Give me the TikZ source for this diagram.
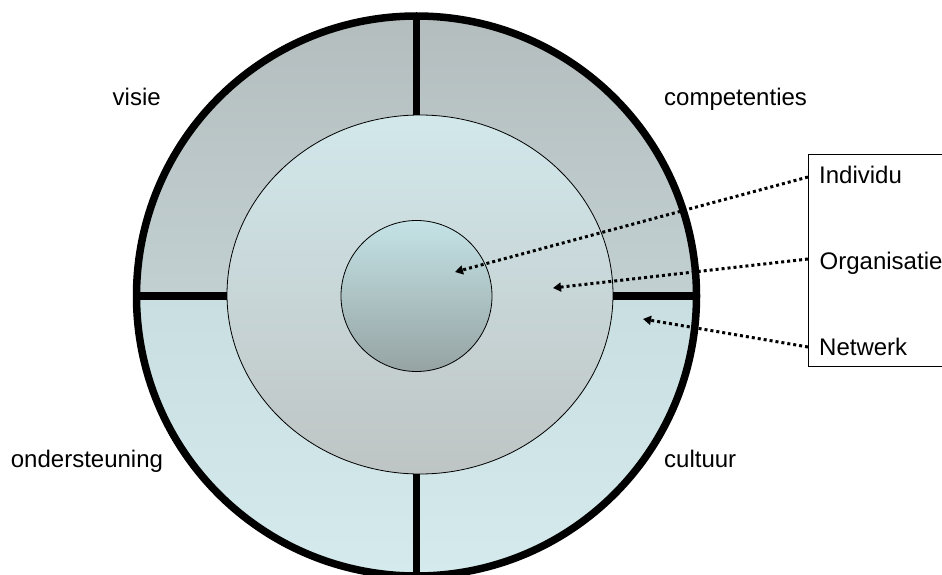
\documentclass[tikz,border=0pt]{standalone}
\usepackage{fontspec}
\setmainfont{Liberation Sans}
\usetikzlibrary{arrows.meta}
\definecolor{ringtop}{RGB}{180,189,190}
\definecolor{ringmid}{RGB}{194,208,210}
\definecolor{lowtop}{RGB}{201,222,225}
\definecolor{lowbot}{RGB}{212,234,236}
\definecolor{orgtop}{RGB}{210,232,235}
\definecolor{orgbot}{RGB}{190,196,196}
\definecolor{indtop}{RGB}{196,227,230}
\definecolor{indbot}{RGB}{150,163,163}
\tikzset{
  lbl/.style={anchor=base west, inner sep=0pt, font=\fontsize{24}{28}\selectfont},
  divider/.style={line width=7.5pt},
  pointer/.style={line width=3pt, dash pattern=on 3pt off 3pt, -{Triangle[length=8pt,width=9pt]}},
}
\begin{document}
\begin{tikzpicture}[x=1pt,y=-1pt]
\useasboundingbox (0,0) rectangle (942,575);
% outer ring halves
\shade[top color=ringtop, bottom color=ringmid]
  (136.5,296) arc[start angle=180, end angle=360, radius=280] -- cycle;
\shade[top color=lowtop, bottom color=lowbot]
  (136.5,296) arc[start angle=180, end angle=0, radius=280] -- cycle;
% middle ellipse (Organisatie)
\shade[top color=orgtop, bottom color=orgbot, draw=black, line width=0.8pt]
  (420,294.5) ellipse[x radius=193, y radius=179.5];
\coordinate (orgc) at (420,294.5);
% inner circle (Individu)
\shade[top color=indtop, bottom color=indbot, draw=black, line width=0.8pt]
  (416.5,296) circle[radius=75.5];
% dividers
\coordinate (ctop) at (416.5,16);
\coordinate (etop) at (416.5,115);
\coordinate (ebot) at (416.5,474);
\coordinate (cbot) at (416.5,576);
\coordinate (cleft) at (136.5,296);
\coordinate (eleft) at (227,296);
\coordinate (eright) at (613,296);
\coordinate (cright) at (696.5,296);
\draw[divider] (ctop) -- (etop);
\draw[divider] (ebot) -- (cbot);
\draw[divider] (cleft) -- (eleft);
\draw[divider] (eright) -- (cright);
% outer circle stroke
\draw[line width=7.5pt] (416.5,296) circle[radius=280];
% legend box
\node[draw, line width=0.8pt, anchor=north west, minimum width=160pt, minimum height=212pt, inner sep=0pt] (box) at (808,154) {};
\node[lbl] (tind) at (819,183) {Individu};
\node[lbl] (torg) at (819.5,269) {Organisatie};
\node[lbl] (tnet) at (819,355) {Netwerk};
% arrow ends
\coordinate (sind) at (808,177);
\coordinate (sorg) at (808,259);
\coordinate (snet) at (808,347);
\coordinate (pind) at (455,272);
\coordinate (porg) at (553,288);
\coordinate (pnet) at (643,319);
\draw[pointer] (sind) -- (pind);
\draw[pointer] (sorg) -- (porg);
\draw[pointer] (snet) -- (pnet);
% quadrant labels
\node[lbl] (visie) at (112.5,106) {visie};
\node[lbl] (comp) at (664,106) {competenties};
\node[lbl] (onder) at (10.7,467) {ondersteuning};
\node[lbl] (cult) at (664,467) {cultuur};
\end{tikzpicture}
\end{document}
